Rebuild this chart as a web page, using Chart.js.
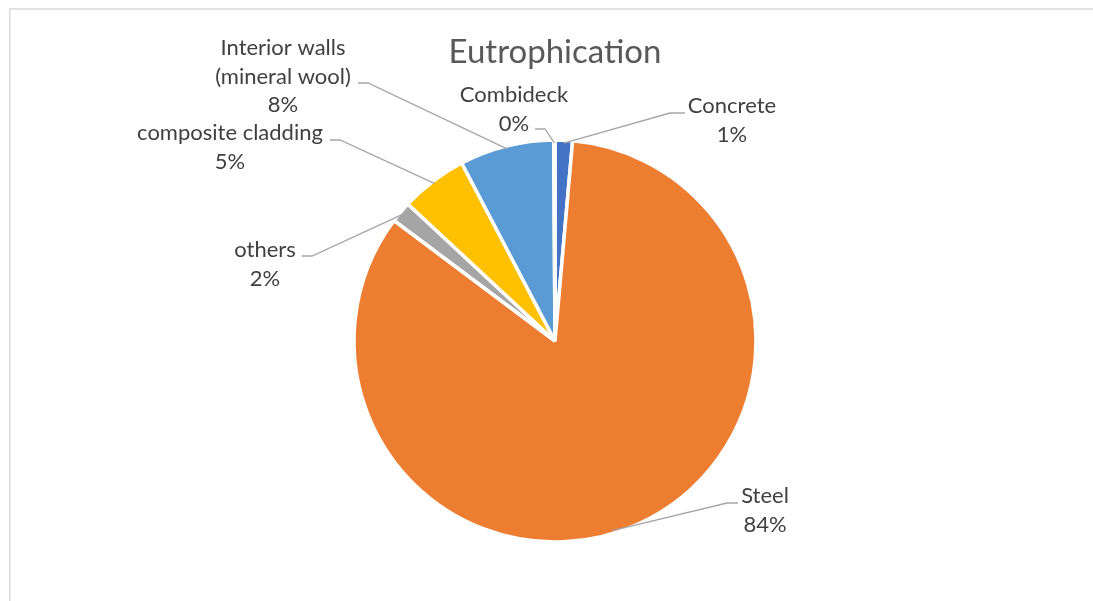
<!DOCTYPE html>
<html>
<head>
<meta charset="utf-8">
<script src="https://cdn.jsdelivr.net/npm/chart.js@4/dist/chart.umd.min.js"></script>
<style>
  body { margin: 0; background: #fff; }
  #wrap { width: 1093px; height: 601px; }
</style>
</head>
<body>
<div id="wrap"><canvas id="chart1" width="1093" height="601"></canvas></div>
<script>
// data (percent of total)
const categories = ["Concrete", "Steel", "others", "composite cladding", ["Interior walls", "(mineral wool)"], "Combideck"];
const values = [1.4, 84.0, 1.7, 5.4, 7.6, 0.1];
const sliceColors = ["#4472C4", "#ED7D31", "#A5A5A5", "#FFC000", "#5B9BD5", "#70AD47"];
const chartTitle = "Eutrophication";

// label placement relative to pie centre: text centre x, first baseline y,
// elbow of leader line, end of short horizontal piece, where on the slice the leader hits
const labelLayout = [
    { tx: 177, ty: -228, ex: 115, ey: -228, hx: 130, at: 0.5 },
    { tx: 210, ty: 162, ex: 172, ey: 162, hx: 183, at: 0.524 },
    { tx: -290, ty: -84, ex: -243, ey: -85, hx: -253, at: 0.5 },
    { tx: -325, ty: -201, ex: -215, ey: -201, hx: -225, at: 0.5 },
    { tx: -272, ty: -286, ex: -187, ey: -258, hx: -197, at: 0.5 },
    { tx: -41, ty: -239, ex: -10, ey: -212, hx: -20, at: 0.5 }
];

const labelFont = "22px Lato";
const lineGap = 28.5;

const labelsPlugin = {
    id: "pieLabels",
    beforeDraw(chart) {
        const ctx = chart.ctx;
        ctx.save();
        ctx.strokeStyle = "#D9D9D9";
        ctx.lineWidth = 1.5;
        ctx.beginPath();
        ctx.moveTo(9.75, chart.height);
        ctx.lineTo(9.75, 9);
        ctx.lineTo(chart.width, 9);
        ctx.stroke();
        ctx.restore();
    },
    afterDatasetsDraw(chart) {
        const ctx = chart.ctx;
        const arcs = chart.getDatasetMeta(0).data;
        const total = values.reduce((a, b) => a + b, 0);
        ctx.save();
        // title
        ctx.fillStyle = "#595959";
        ctx.font = "33px Lato";
        ctx.textAlign = "center";
        ctx.textBaseline = "alphabetic";
        ctx.fillText(chartTitle, arcs[0].x, 63);

        arcs.forEach((arc, i) => {
            const L = labelLayout[i];
            const cx = arc.x, cy = arc.y;
            const a = arc.startAngle + (arc.endAngle - arc.startAngle) * L.at;
            const r = arc.outerRadius - 3;
            ctx.strokeStyle = "#A6A6A6";
            ctx.lineWidth = 1.3;
            ctx.beginPath();
            ctx.moveTo(cx + Math.cos(a) * r, cy + Math.sin(a) * r);
            ctx.lineTo(cx + L.ex, cy + L.ey);
            ctx.lineTo(cx + L.hx, cy + L.ey);
            ctx.stroke();

            const name = categories[i];
            const lines = (Array.isArray(name) ? name.slice() : [name]);
            lines.push(Math.round(values[i] / total * 100) + "%");
            ctx.fillStyle = "#404040";
            ctx.font = labelFont;
            lines.forEach((t, k) => {
                ctx.fillText(t, cx + L.tx, cy + L.ty + k * lineGap);
            });
        });
        ctx.restore();
    }
};

new Chart(document.getElementById("chart1"), {
    type: "pie",
    data: {
        labels: categories,
        datasets: [{
            data: values,
            backgroundColor: sliceColors,
            borderColor: "#FFFFFF",
            borderWidth: 3.5
        }]
    },
    options: {
        responsive: false,
        animation: false,
        radius: 201,
        layout: { padding: { left: 17, right: 0, top: 81, bottom: 0 } },
        plugins: {
            legend: { display: false },
            title: { display: false },
            tooltip: { enabled: false }
        }
    },
    plugins: [labelsPlugin]
});
</script>
</body>
</html>
